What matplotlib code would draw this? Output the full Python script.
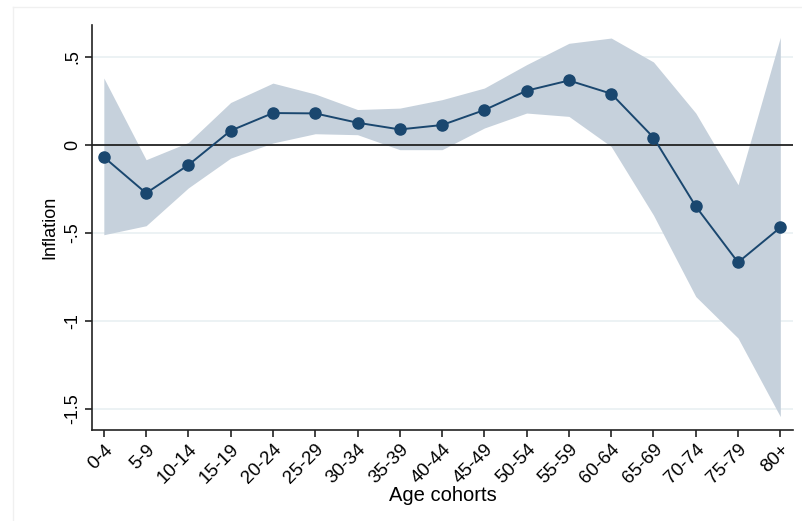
import numpy as np
import matplotlib.pyplot as plt
from matplotlib.lines import Line2D

plt.rcParams['font.family'] = ['Liberation Sans', 'DejaVu Sans']

# Age cohorts and estimated coefficients with confidence bounds
cohorts = ['0-4', '5-9', '10-14', '15-19', '20-24', '25-29', '30-34', '35-39',
           '40-44', '45-49', '50-54', '55-59', '60-64', '65-69', '70-74', '75-79', '80+']
coef = [-0.07, -0.275, -0.115, 0.08, 0.18, 0.178, 0.125, 0.087,
        0.112, 0.197, 0.307, 0.365, 0.29, 0.041, -0.35, -0.668, -0.47]
upper = [0.379, -0.085, 0.013, 0.24, 0.35, 0.288, 0.2, 0.208,
         0.256, 0.322, 0.455, 0.576, 0.606, 0.47, 0.18, -0.227, 0.61]
lower = [-0.511, -0.46, -0.245, -0.076, 0.01, 0.0625, 0.057, -0.028,
         -0.028, 0.095, 0.18, 0.161, -0.01, -0.40, -0.862, -1.098, -1.544]

x = np.arange(len(cohorts))

fig = plt.figure(figsize=(8.02, 5.21), dpi=100)
ax = fig.add_axes([0.1147, 0.1747, 0.8741, 0.7773])

# faint outer graph region border (left and top)
fig.add_artist(Line2D([13/802, 13/802], [0, 1 - 7/521], color='#f0f0f0', lw=1))
fig.add_artist(Line2D([13/802, 1], [1 - 7/521, 1 - 7/521], color='#f0f0f0', lw=1))

# grid lines
for yv in [0.5, -0.5, -1, -1.5]:
    ax.axhline(yv, color='#e9f0f2', lw=1.2, zorder=0)

ax.fill_between(x, lower, upper, color='#c6d1dc', lw=0, zorder=1)
ax.axhline(0, color='#222222', lw=1.3, zorder=2)
ax.plot(x, coef, color='#1a476f', lw=1.4, marker='o', markersize=8, zorder=3)

ax.set_xlim(-0.28, 16.3)
ax.set_ylim(-1.62, 0.68)
ax.set_yticks([0.5, 0, -0.5, -1, -1.5])
ax.set_yticklabels(['.5', '0', '-.5', '-1', '-1.5'], rotation=90, va='center', fontsize=13)
ax.set_xticks(x)
ax.set_xticklabels(cohorts, rotation=45, ha='right', rotation_mode='anchor', fontsize=13.5)

for s in ['top', 'right']:
    ax.spines[s].set_visible(False)
for s in ['left', 'bottom']:
    ax.spines[s].set_color('#222222')
    ax.spines[s].set_linewidth(1.2)
ax.tick_params(length=5, width=1.2, color='#222222', pad=3)

ax.set_xlabel('Age cohorts', fontsize=14.5)
ax.xaxis.set_label_coords(0.5, -0.138)
ax.set_ylabel('Inflation', fontsize=13, labelpad=4)

fig.savefig('out.png', dpi=100)
